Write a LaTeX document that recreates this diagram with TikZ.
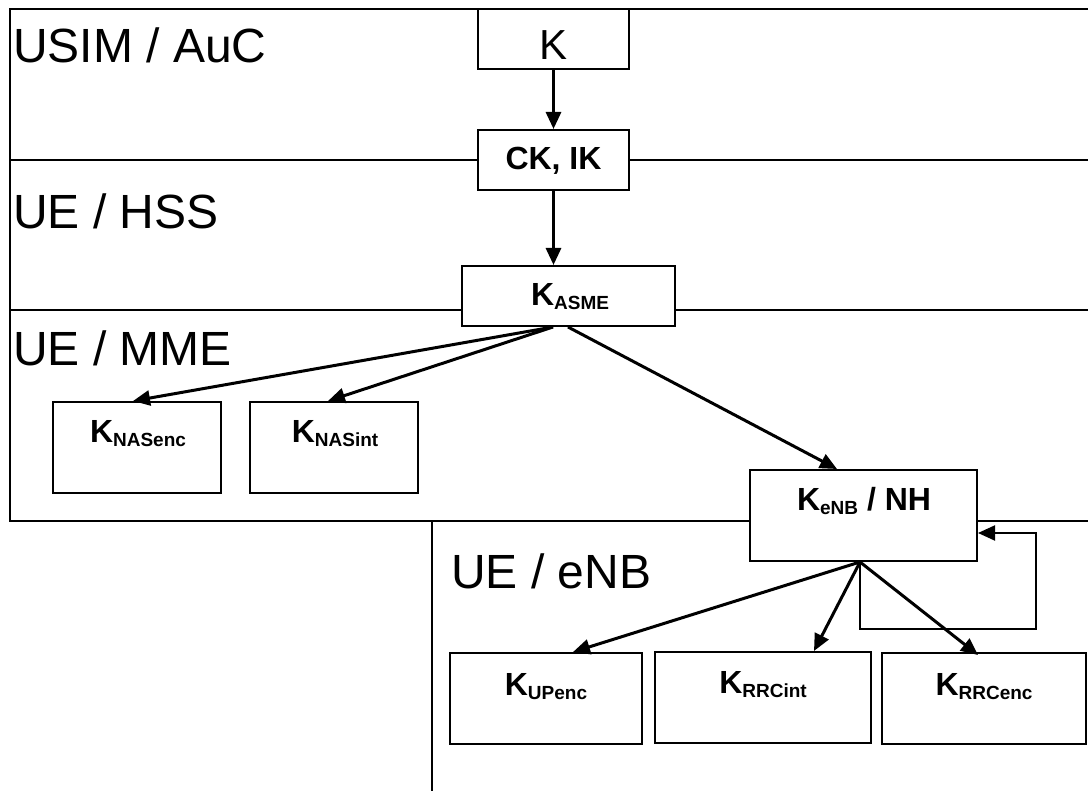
\documentclass[tikz,border=0pt]{standalone}
\usepackage{fontspec}
\setmainfont{Liberation Sans}
\usetikzlibrary{arrows.meta}
\newcommand\ksub[1]{K\raisebox{-4pt}{\fontsize{19}{19}\selectfont #1}}
\begin{document}
\begin{tikzpicture}[x=1pt,y=-1pt,
 frame/.style={line width=2pt},
 box/.style={draw, line width=2pt, fill=white, inner sep=0pt},
 arr/.style={line width=3pt, -{Triangle[length=17pt,width=15pt]}},
 loopline/.style={line width=2pt, -{Triangle[length=17pt,width=15pt]}},
 region/.style={anchor=base west, inner sep=0pt, font=\fontsize{48}{48}\selectfont},
 lbl/.style={anchor=base, inner sep=0pt, font=\fontsize{32}{32}\selectfont\bfseries}]
\useasboundingbox (0,0) rectangle (1088,791);

% frame lines
\draw[frame] (1088,9) -- (10,9) -- (10,521) -- (1088,521);
\draw[frame] (10,160) -- (1088,160);
\draw[frame] (10,310) -- (1088,310);
\draw[frame] (432,521) -- (432,791);

% region labels
\node[region] (r1) at (13,63) {USIM / AuC};
\node[region] (r2) at (13,229) {UE / HSS};
\node[region] (r3) at (13,366) {UE / MME};
\node[region] (r4) at (451,588) {UE / eNB};

% boxes
\node[box, minimum width=151pt, minimum height=60pt] (k) at (553.5,39) {};
\node[box, minimum width=151pt, minimum height=60pt] (ck) at (553.5,160) {};
\node[box, minimum width=213pt, minimum height=60pt] (kasme) at (568.5,296) {};
\node[box, minimum width=168pt, minimum height=91pt] (nasenc) at (137,447.5) {};
\node[box, minimum width=168pt, minimum height=91pt] (nasint) at (334,447.5) {};
\node[box, minimum width=227pt, minimum height=91pt] (kenb) at (863.5,515.5) {};
\node[box, minimum width=192pt, minimum height=91pt] (upenc) at (546,698.5) {};
\node[box, minimum width=216pt, minimum height=91pt] (rrcint) at (763,697.5) {};
\node[box, minimum width=204pt, minimum height=91pt] (rrcenc) at (984,698.5) {};

% box texts
\node[anchor=base, inner sep=0pt, font=\fontsize{42}{42}\selectfont] (k-t) at (553.5,60) {K};
\node[lbl] (ck-t) at (553.5,170) {CK, IK};
\node[lbl] (kasme-t) at (570,306) {\ksub{ASME}};
\node[lbl] (nasenc-t) at (138,443) {\ksub{NASenc}};
\node[lbl] (nasint-t) at (335,443) {\ksub{NASint}};
\node[lbl] (kenb-t) at (864,511) {\ksub{eNB} / NH};
\node[lbl] (upenc-t) at (546,695) {\ksub{UPenc}};
\node[lbl] (rrcint-t) at (763,693) {\ksub{RRCint}};
\node[lbl] (rrcenc-t) at (984,695) {\ksub{RRCenc}};

% connectors
\coordinate (kas1) at ([xshift=-15.5pt]kasme.south);
\coordinate (kas2) at ([xshift=-0.5pt]kasme.south);
\coordinate (kenbs) at ([xshift=-3.5pt]kenb.south);
\draw[arr] (k.south) -- (ck.north);
\draw[arr] (ck.south) -- (ck.south |- kasme.north);
\draw[arr] (kas1) -- ([xshift=-4pt]nasenc.north);
\draw[arr] (kas1) -- ([xshift=-6pt]nasint.north);
\draw[arr] (kas2) -- ([xshift=-26.5pt]kenb.north);
\draw[arr] (kenbs) -- ([xshift=27pt]upenc.north);
\draw[arr] (kenbs) -- ([xshift=51pt]rrcint.north);
\draw[arr] (kenbs) -- ([xshift=-6pt,yshift=-3pt]rrcenc.north);
\coordinate (loop1) at (1036,629);
\draw[loopline] (kenbs) -- (kenbs |- loop1) -- (loop1) -- (loop1 |- 0,533) -- (kenb.east |- 0,533);
\end{tikzpicture}
\end{document}
